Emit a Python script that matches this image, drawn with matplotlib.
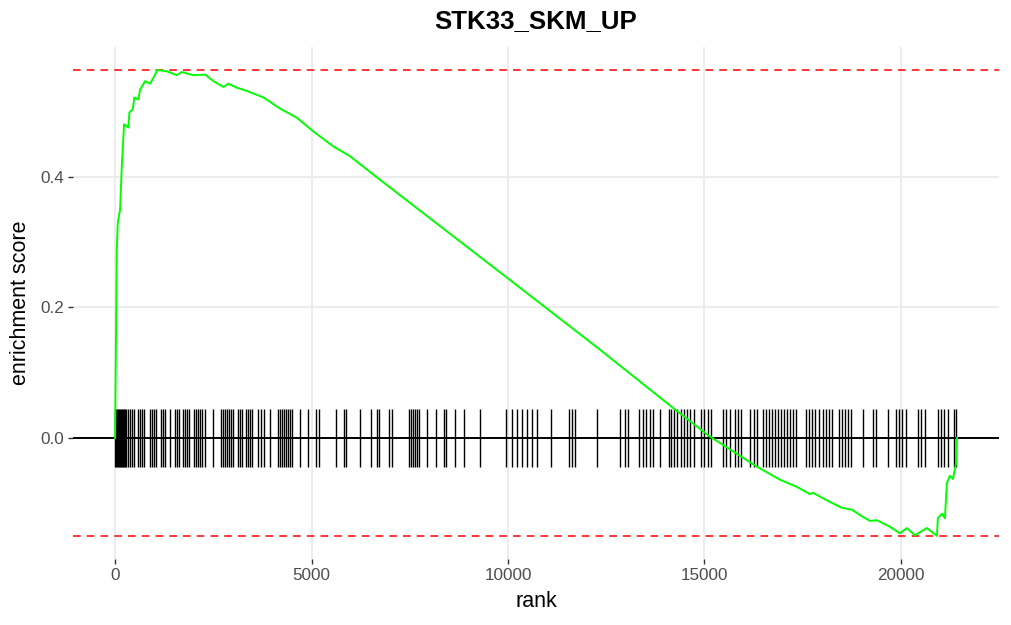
import matplotlib
matplotlib.use("Agg")
import matplotlib.pyplot as plt
import numpy as np

plt.rcParams['font.family'] = ['Liberation Sans', 'DejaVu Sans']

title = "STK33_SKM_UP"
x_label = "rank"
y_label = "enrichment score"

# positions (ranks) of the pathway genes
gene_ranks = [
    1, 30, 55, 80, 105, 130, 155, 180, 205, 230, 255, 280,
    331, 382, 433, 483, 585, 636, 687, 738, 891, 941, 992, 1043,
    1170, 1221, 1272, 1399, 1527, 1578, 1628, 1730, 1781, 1832, 1883,
    2010, 2061, 2112, 2163, 2214, 2290, 2494, 2697, 2748, 2799, 2850,
    2901, 2952, 3002, 3130, 3181, 3232, 3333, 3384, 3435, 3486,
    3639, 3715, 3791, 3944, 4147, 4198, 4249, 4300, 4351, 4402, 4453, 4504,
    4707, 4911, 5114, 5191, 5623, 5827, 5878, 6234, 6514, 6667, 6717,
    6972, 7048, 7481, 7532, 7583, 7634, 7684, 7735, 7939, 8168, 8371, 8422,
    8651, 8880, 9287, 9949, 10102, 10229, 10356, 10483, 10611, 10738,
    11094, 11552, 11628, 11704, 12264, 12850, 12977, 13053,
    13333, 13435, 13511, 13613, 13689, 13867, 14096, 14147, 14223, 14299,
    14401, 14478, 14554, 14630, 14732, 14910, 14987, 15088, 15165,
    15470, 15547, 15649, 15776, 15852, 15929, 16158, 16260, 16336,
    16488, 16565, 16641, 16717, 16794, 16870, 16946, 17023, 17099, 17175, 17252, 17328,
    17583, 17659, 17735, 17812, 17913, 18015, 18091, 18168, 18244,
    18422, 18498, 18575, 18651, 18727, 19033, 19287, 19364, 19669,
    19873, 19949, 20025, 20127, 20433, 20509, 20611,
    20941, 21018, 21094, 21196, 21349, 21400,
]

# running enrichment score curve
curve_rank = [
    0, 43, 69, 127, 170, 229, 338, 364, 450, 491, 593, 636, 763, 891, 1018, 1076,
    1316, 1570, 1697, 1992, 2290, 2501, 2756, 2883, 3097, 3351, 3774, 4198, 4623,
    5046, 5555, 5980, 6743, 8015, 10000, 12341, 14198, 15140, 16336, 16921, 17354,
    17684, 17761, 18193, 18498, 18753, 19033, 19211, 19389, 19720, 19974, 20152,
    20356, 20661, 20916, 20941, 21043, 21120, 21170, 21247, 21323, 21400, 21425,
]
curve_es = [
    0.0, 0.288, 0.330, 0.349, 0.415, 0.480, 0.475, 0.498, 0.503, 0.521, 0.518, 0.533,
    0.546, 0.542, 0.556, 0.563, 0.561, 0.555, 0.560, 0.555, 0.556, 0.546, 0.537, 0.542,
    0.536, 0.531, 0.521, 0.504, 0.490, 0.469, 0.446, 0.431, 0.395, 0.336, 0.244, 0.135,
    0.046, 0.002, -0.044, -0.064, -0.075, -0.086, -0.084, -0.098, -0.107, -0.110, -0.121,
    -0.127, -0.126, -0.136, -0.146, -0.138, -0.149, -0.138, -0.150, -0.123, -0.116,
    -0.123, -0.069, -0.058, -0.063, -0.040, 0.0,
]

x_ticks = [0, 5000, 10000, 15000, 20000]
y_ticks = [0.0, 0.2, 0.4]
y_tick_labels = ["0.0", "0.2", "0.4"]

es_max = max(curve_es)
es_min = min(curve_es)
tick_half = (es_max - es_min) / 16

fig = plt.figure(figsize=(10.12, 6.25), dpi=100)
ax = fig.add_axes([73 / 1012, (625 - 559.2) / 625, 926 / 1012, 512.5 / 625])

xmin, xmax = 0, max(curve_rank)
xr = xmax - xmin
ax.set_xlim(xmin - 0.05 * xr, xmax + 0.05 * xr)
yr = es_max - es_min
ax.set_ylim(es_min - 0.05 * yr, es_max + 0.05 * yr)

for s in ax.spines.values():
    s.set_visible(False)
ax.set_xticks(x_ticks)
ax.set_xticklabels([str(v) for v in x_ticks])
ax.set_yticks(y_ticks)
ax.set_yticklabels(y_tick_labels)
ax.grid(True, color="#EBEBEB", linewidth=1.3, zorder=0)
ax.set_axisbelow(True)
ax.tick_params(axis="both", length=3.6, width=1.0, color="#333333",
               labelcolor="#4D4D4D", labelsize=12.3, pad=2.5)

ax.axhline(es_max, color="red", linestyle=(0, (5, 4)), linewidth=1.1, zorder=2)
ax.axhline(es_min, color="red", linestyle=(0, (5, 4)), linewidth=1.1, zorder=2)
ax.axhline(0, color="black", linewidth=1.4, zorder=2)

ax.vlines(gene_ranks, -tick_half, tick_half, color="black", linewidth=1.0, zorder=3)
ax.plot(curve_rank, curve_es, color="#00FF00", linewidth=1.4, zorder=4)

ax.set_xlabel(x_label, fontsize=15.5, labelpad=6)
ax.set_ylabel(y_label, fontsize=15.5, labelpad=7)
ax.set_title(title, fontsize=18.6, fontweight="bold", pad=13.5)

fig.savefig("out.png", dpi=100, facecolor="white")
